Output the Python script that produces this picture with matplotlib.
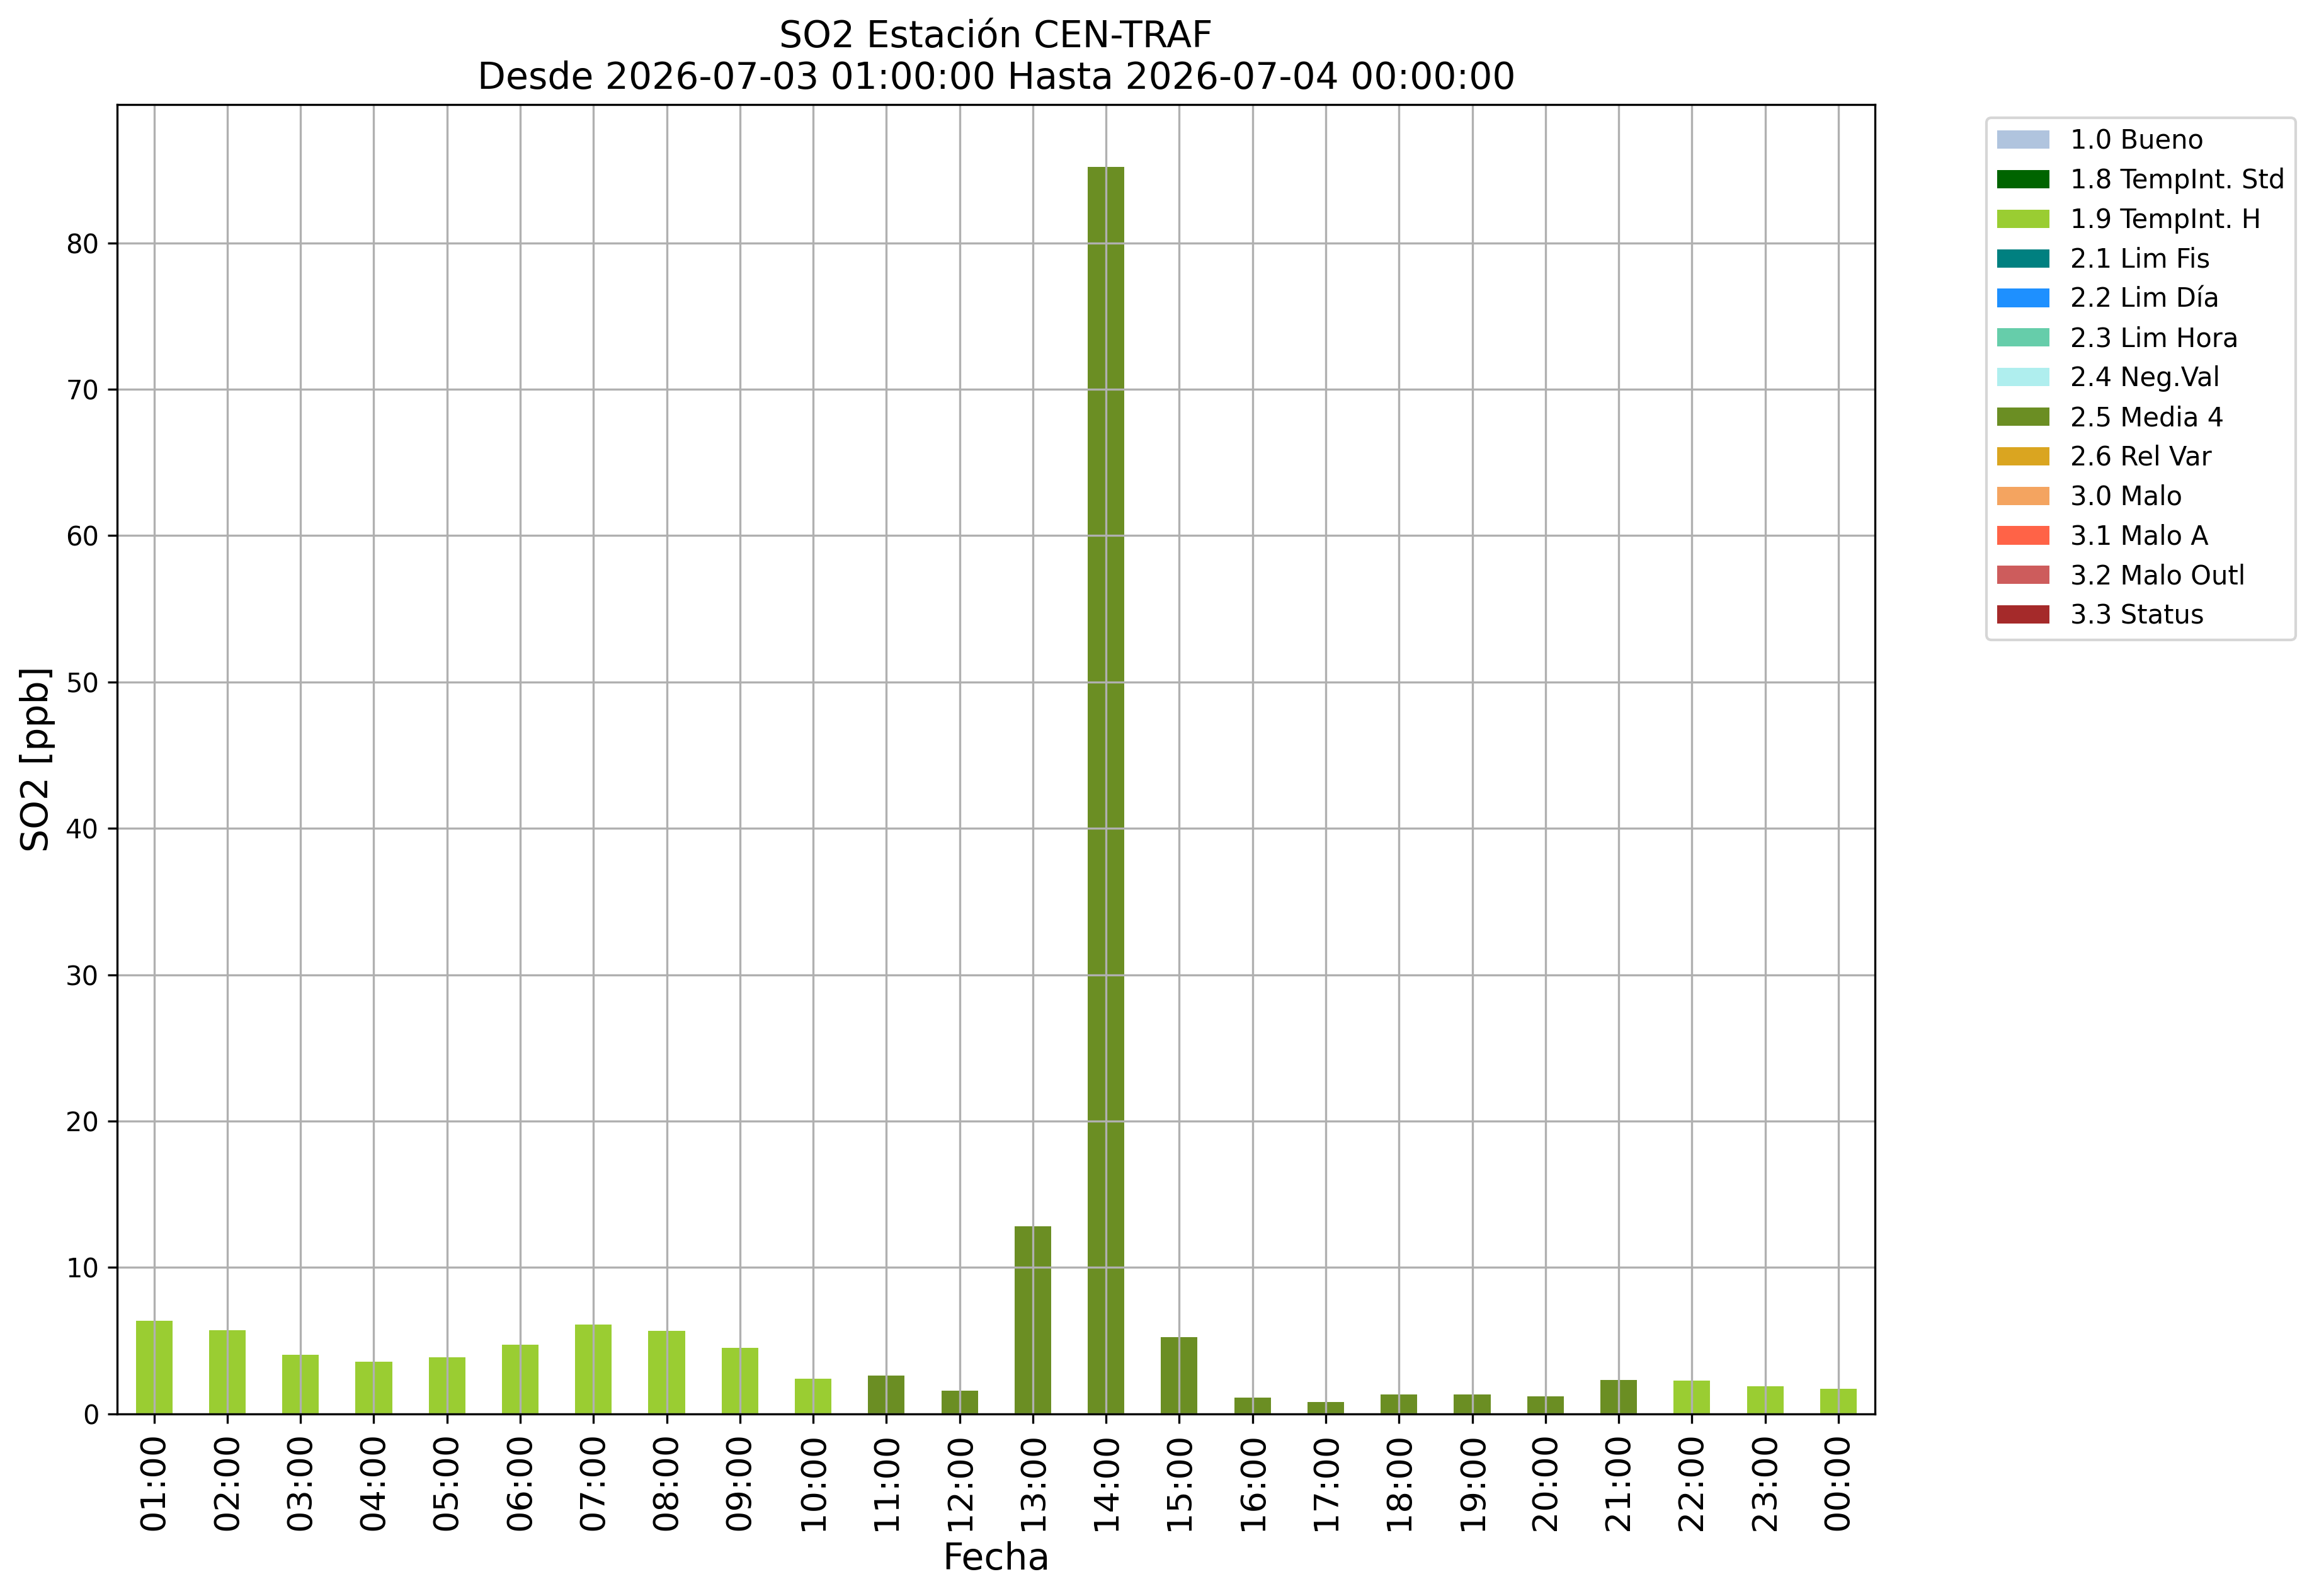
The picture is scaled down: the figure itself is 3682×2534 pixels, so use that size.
import matplotlib
matplotlib.use("Agg")
import matplotlib.pyplot as plt
import pandas as pd
import numpy as np

hours = ["01:00", "02:00", "03:00", "04:00", "05:00", "06:00", "07:00", "08:00",
         "09:00", "10:00", "11:00", "12:00", "13:00", "14:00", "15:00", "16:00",
         "17:00", "18:00", "19:00", "20:00", "21:00", "22:00", "23:00", "00:00"]
values = [6.36, 5.71, 4.03, 3.56, 3.86, 4.72, 6.10, 5.67, 4.51, 2.40, 2.60, 1.56,
          12.8, 85.2, 5.22, 1.12, 0.82, 1.34, 1.34, 1.21, 2.33, 2.28, 1.90, 1.72]
flags = ["1.9 TempInt. H"] * 10 + ["2.5 Media 4"] * 11 + ["1.9 TempInt. H"] * 3

flag_names = ["1.0 Bueno", "1.8 TempInt. Std", "1.9 TempInt. H", "2.1 Lim Fis",
              "2.2 Lim Día", "2.3 Lim Hora", "2.4 Neg.Val", "2.5 Media 4",
              "2.6 Rel Var", "3.0 Malo", "3.1 Malo A", "3.2 Malo Outl", "3.3 Status"]
flag_colors = ["lightsteelblue", "darkgreen", "yellowgreen", "teal", "dodgerblue",
               "mediumaquamarine", "paleturquoise", "olivedrab", "goldenrod",
               "sandybrown", "tomato", "indianred", "brown"]

df = pd.DataFrame(0.0, index=hours, columns=flag_names)
for h, v, f in zip(hours, values, flags):
    df.loc[h, f] = v

fig = plt.figure(figsize=(3682 / 300, 2534 / 300), dpi=300)
ax = fig.add_subplot(111)
fig.subplots_adjust(left=0.05065, right=0.80853, bottom=0.11417, top=0.93461)

df.plot(kind="bar", stacked=True, color=flag_colors, ax=ax, grid=True, legend=False)
ax.grid(True, color="#b0b0b0", linewidth=0.8)
ax.set_title("SO2 Estación CEN-TRAF\nDesde 2026-07-03 01:00:00 Hasta 2026-07-04 00:00:00",
             fontsize=14)
ax.set_xlabel("Fecha", fontsize=14)
ax.set_ylabel("SO2 [ppb]", fontsize=14)
ax.tick_params(axis="x", labelsize=13, labelrotation=90)
ax.tick_params(axis="y", labelsize=10)
ax.legend(bbox_to_anchor=(1.056, 1), loc="upper left", fontsize=10)

fig.savefig("out.png", dpi=300)
